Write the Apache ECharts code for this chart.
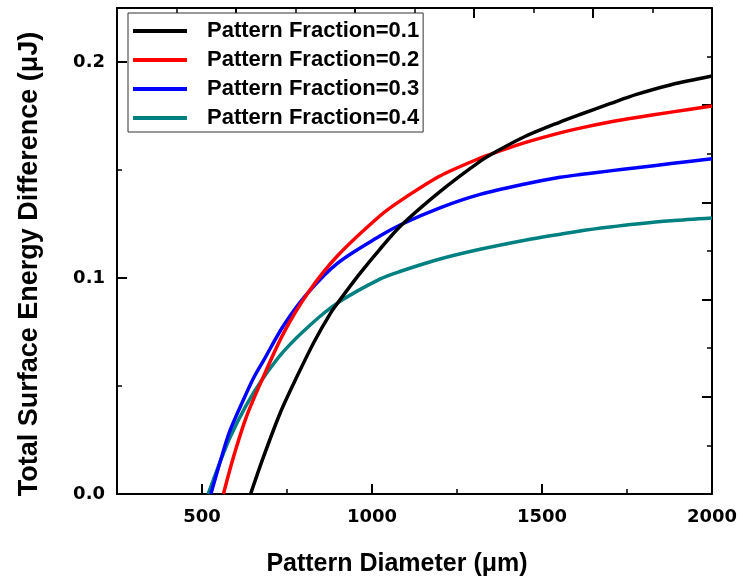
<!DOCTYPE html>
<html>
<head>
<meta charset="utf-8">
<script src="https://cdn.jsdelivr.net/npm/echarts@6/dist/echarts.min.js"></script>
<style>
  html, body { margin: 0; padding: 0; background: #fff; }
  #chart { width: 740px; height: 585px; }
</style>
</head>
<body>
<div id="chart"></div>
<script>
// Pattern diameter (µm) vs. total surface energy difference (µJ)
const seriesNames = ['Pattern Fraction=0.1', 'Pattern Fraction=0.2', 'Pattern Fraction=0.3', 'Pattern Fraction=0.4'];
const seriesColors = ['#000000', '#ff0000', '#0000ff', '#008080'];

const diam01 = [643, 680, 730, 778, 830, 876, 900, 960, 1023, 1087, 1200, 1318, 1371, 1450, 1553, 1612, 1700, 1778, 1880, 2000];
const energy01 = [0, 0.0168, 0.0375, 0.0539, 0.0705, 0.0832, 0.0886, 0.1012, 0.1133, 0.1245, 0.1400, 0.1540, 0.1590, 0.1655, 0.1722, 0.1757, 0.1807, 0.1850, 0.1895, 0.1935];

const diam02 = [563, 592, 630, 675, 740, 812, 900, 1023, 1082, 1200, 1318, 1371, 1450, 1553, 1612, 1700, 1778, 1880, 2000];
const energy02 = [0, 0.0168, 0.0355, 0.0523, 0.0745, 0.0932, 0.1105, 0.1287, 0.1356, 0.1472, 0.1555, 0.1585, 0.1627, 0.1672, 0.1694, 0.1722, 0.1743, 0.1768, 0.1796];

const diam03 = [526, 555, 582, 620, 651, 680, 740, 812, 900, 1023, 1087, 1200, 1318, 1450, 1553, 1612, 1700, 1778, 1880, 2000];
const energy03 = [0, 0.0158, 0.0292, 0.0430, 0.0535, 0.0615, 0.0780, 0.0932, 0.1070, 0.1194, 0.1249, 0.1325, 0.1387, 0.1435, 0.1466, 0.1479, 0.1496, 0.1510, 0.1530, 0.1552];

const diam04 = [518, 550, 582, 630, 675, 740, 820, 900, 1023, 1082, 1200, 1318, 1450, 1553, 1612, 1700, 1778, 1880, 2000];
const energy04 = [0, 0.0135, 0.0260, 0.0410, 0.0525, 0.0660, 0.0785, 0.0886, 0.0995, 0.1030, 0.1088, 0.1133, 0.1175, 0.1203, 0.1218, 0.1236, 0.1250, 0.1265, 0.1278];

const xMajorTicks = [500, 1000, 1500, 2000];
const yMajorTicks = [0, 0.1, 0.2];

const diams = [diam01, diam02, diam03, diam04];
const energies = [energy01, energy02, energy03, energy04];

const labelFont = '"DejaVu Sans", sans-serif';
const textFont = '"Liberation Sans", Arial, sans-serif';

const chart = echarts.init(document.getElementById('chart'), null, { renderer: 'canvas' });

const frameLine = { show: true, onZero: false, lineStyle: { color: '#000', width: 2 } };
const hiddenLine = { show: false, onZero: false };
const plotBox = { left: 117, right: 28, top: 8, bottom: 91, containLabel: false };
const majorTickStyle = { color: '#000', width: 2 };
const minorTickStyle = { color: '#000', width: 1.5 };

chart.setOption({
  animation: false,
  backgroundColor: '#fff',
  // grid 0 holds the data; grid 1 overlays it and only carries the minor ticks
  grid: [Object.assign({}, plotBox), Object.assign({}, plotBox)],
  legend: {
    data: seriesNames,
    orient: 'vertical',
    left: 128,
    top: 13,
    padding: [7, 4, 3, 5],
    itemGap: 7,
    itemWidth: 54,
    itemHeight: 4,
    icon: 'rect',
    borderColor: '#333',
    borderWidth: 1,
    backgroundColor: '#fff',
    textStyle: {
      fontFamily: textFont,
      fontWeight: 'bold',
      fontSize: 22,
      lineHeight: 22,
      color: '#000',
      padding: [0, 0, 0, 15]
    }
  },
  xAxis: [
    {
      gridIndex: 0,
      type: 'value',
      min: 250,
      max: 2000,
      interval: 250,
      position: 'bottom',
      name: 'Pattern Diameter (\u03bcm)',
      nameLocation: 'middle',
      nameGap: 58,
      nameTextStyle: {
        fontFamily: textFont, fontWeight: 'bold', fontSize: 25, color: '#000',
        padding: [0, 35, 0, 0]
      },
      axisLine: frameLine,
      axisTick: { show: true, inside: true, length: 10, customValues: xMajorTicks, lineStyle: majorTickStyle },
      axisLabel: {
        customValues: xMajorTicks,
        margin: 14,
        formatter: v => String(v),
        fontFamily: labelFont, fontWeight: 'bold', fontSize: 18, color: '#000'
      },
      splitLine: { show: false }
    },
    {
      // mirrored frame on top
      gridIndex: 0,
      type: 'value',
      min: 0, max: 5, interval: 1,
      position: 'top',
      axisLine: frameLine,
      axisTick: { show: true, inside: true, length: 10, lineStyle: majorTickStyle },
      minorTick: { show: true, splitNumber: 2, length: 5, lineStyle: minorTickStyle },
      axisLabel: { show: false },
      splitLine: { show: false }
    },
    {
      // minor ticks of the bottom axis
      gridIndex: 1,
      type: 'value',
      min: 250, max: 2000, interval: 250,
      position: 'bottom',
      axisLine: hiddenLine,
      axisTick: { show: true, inside: true, length: 5, lineStyle: minorTickStyle },
      axisLabel: { show: false },
      splitLine: { show: false }
    }
  ],
  yAxis: [
    {
      gridIndex: 0,
      type: 'value',
      min: 0,
      max: 0.225,
      interval: 0.05,
      position: 'left',
      name: 'Total Surface Energy Difference (\u03bcJ)',
      nameLocation: 'middle',
      nameGap: 74,
      nameTextStyle: {
        fontFamily: textFont, fontWeight: 'bold', fontSize: 27, color: '#000',
        padding: [0, 26, 0, 0]
      },
      axisLine: frameLine,
      axisTick: { show: true, inside: true, length: 10, customValues: yMajorTicks, lineStyle: majorTickStyle },
      axisLabel: {
        customValues: yMajorTicks,
        margin: 12,
        formatter: v => v.toFixed(1),
        fontFamily: labelFont, fontWeight: 'bold', fontSize: 18, color: '#000'
      },
      splitLine: { show: false }
    },
    {
      // mirrored frame on the right
      gridIndex: 0,
      type: 'value',
      min: 0, max: 5, interval: 1,
      position: 'right',
      axisLine: frameLine,
      axisTick: { show: true, inside: true, length: 10, lineStyle: majorTickStyle },
      minorTick: { show: true, splitNumber: 2, length: 5, lineStyle: minorTickStyle },
      axisLabel: { show: false },
      splitLine: { show: false }
    },
    {
      // minor ticks of the left axis
      gridIndex: 1,
      type: 'value',
      min: 0, max: 0.225, interval: 0.05,
      position: 'left',
      axisLine: hiddenLine,
      axisTick: { show: true, inside: true, length: 5, lineStyle: minorTickStyle },
      axisLabel: { show: false },
      splitLine: { show: false }
    }
  ],
  series: seriesNames.map((name, i) => ({
    name: name,
    type: 'line',
    xAxisIndex: 0,
    yAxisIndex: 0,
    data: diams[i].map((d, k) => [d, energies[i][k]]),
    smooth: 0.3,
    showSymbol: false,
    symbol: 'none',
    color: seriesColors[i],
    lineStyle: { color: seriesColors[i], width: 3.5 },
    z: 3 + (3 - i)
  }))
});
</script>
</body>
</html>
